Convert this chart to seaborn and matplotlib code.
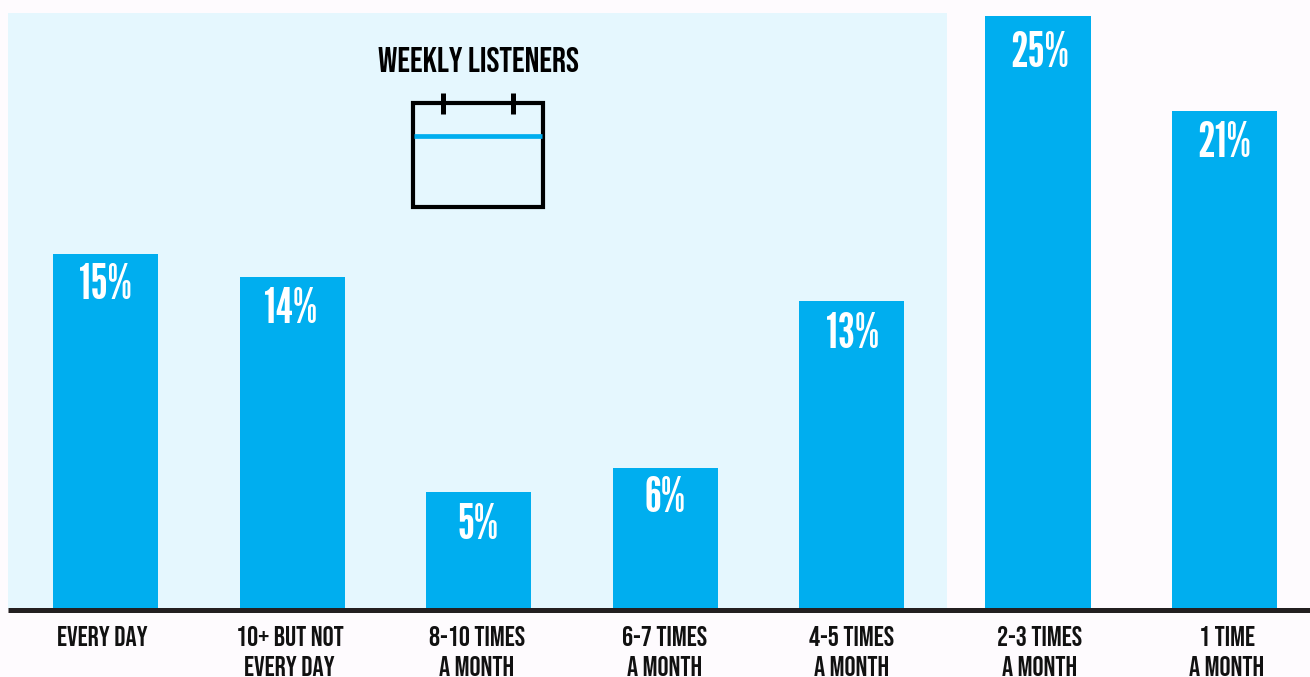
import matplotlib
matplotlib.use("Agg")
import matplotlib.pyplot as plt
from matplotlib.patches import Rectangle
import seaborn as sns
import pandas as pd

categories = ["EVERY DAY", "10+ BUT NOT\nEVERY DAY", "8-10 TIMES\nA MONTH", "6-7 TIMES\nA MONTH",
              "4-5 TIMES\nA MONTH", "2-3 TIMES\nA MONTH", "1 TIME\nA MONTH"]
values = [14.96, 14, 4.92, 5.96, 13, 25, 21]
labels = ["15%", "14%", "5%", "6%", "13%", "25%", "21%"]
title = "WEEKLY LISTENERS"

label_baseline_px = [299, 323, 539, 512, 348, 67, 157]
label_center_px = [105, 290.5, 478, 665.5, 853, 1040, 1224.5]

BLUE = "#00aeef"
W, H = 1310, 677
BASE = 609
fig = plt.figure(figsize=(W/100, H/100), dpi=100, facecolor="#fefbfe")
ax = fig.add_axes([0, 1-BASE/H, 1, BASE/H])
ax.set_facecolor("none")
df = pd.DataFrame({"cat": categories, "val": values})
STEP = 186.5
xl = (0-105.5)/STEP
xr = (1310-105.5)/STEP
sns.barplot(data=df, x="cat", y="val", color=BLUE, saturation=1, width=105/STEP, ax=ax, zorder=3)
ax.set_xlim(xl, xr)
ymax = 25*BASE/(609-16)
ax.set_ylim(0, ymax)
for s in ax.spines.values():
    s.set_visible(False)
ax.set_xlabel(""); ax.set_ylabel(""); ax.set_yticks([])
ax.set_xticks([])

def x2d(px): return xl+(xr-xl)*px/W
def y2d(py): return ymax*(BASE-py)/BASE
ax.add_patch(Rectangle((x2d(8), 0), x2d(947)-x2d(8), y2d(13), fc="#e5f7fe", ec="none", zorder=1))
ax.plot([x2d(8), x2d(1310)], [y2d(610)]*2, color="#231f20", lw=3.6, zorder=5, clip_on=False, solid_capstyle="butt")

pct_font = ["League Gothic", "DejaVu Sans"]
lab_font = ["Bebas Neue", "DejaVu Sans"]
ttl_font = ["Bebas Neue", "DejaVu Sans"]
for i, l in enumerate(labels):
    fig.text(label_center_px[i]/W, 1-label_baseline_px[i]/H, l, ha="center", va="baseline", color="white",
             fontsize=35, family=pct_font, zorder=6)
for i, c in enumerate(categories):
    for j, ln in enumerate(c.split("\n")):
        fig.text((102+187.5*i)/W, 1-(646.5+29.5*j)/H, ln, ha="center", va="baseline", fontsize=20,
                 family=lab_font, color="#111111")
fig.text(478/W, 1-72/H, title, ha="center", va="baseline", fontsize=25, family=ttl_font, color="black")
ax.add_patch(Rectangle((x2d(413), y2d(207)), x2d(543)-x2d(413), y2d(103)-y2d(207), fc="none", ec="black", lw=3, zorder=6))
ax.plot([x2d(414), x2d(542)], [y2d(135.5)]*2, color=BLUE, lw=3.4, zorder=6, solid_capstyle="butt")
for p in (443.5, 512.5):
    ax.plot([x2d(p)]*2, [y2d(93), y2d(114)], color="black", lw=3.6, zorder=7, solid_capstyle="butt")
fig.savefig("out.png", dpi=100, facecolor=fig.get_facecolor())
